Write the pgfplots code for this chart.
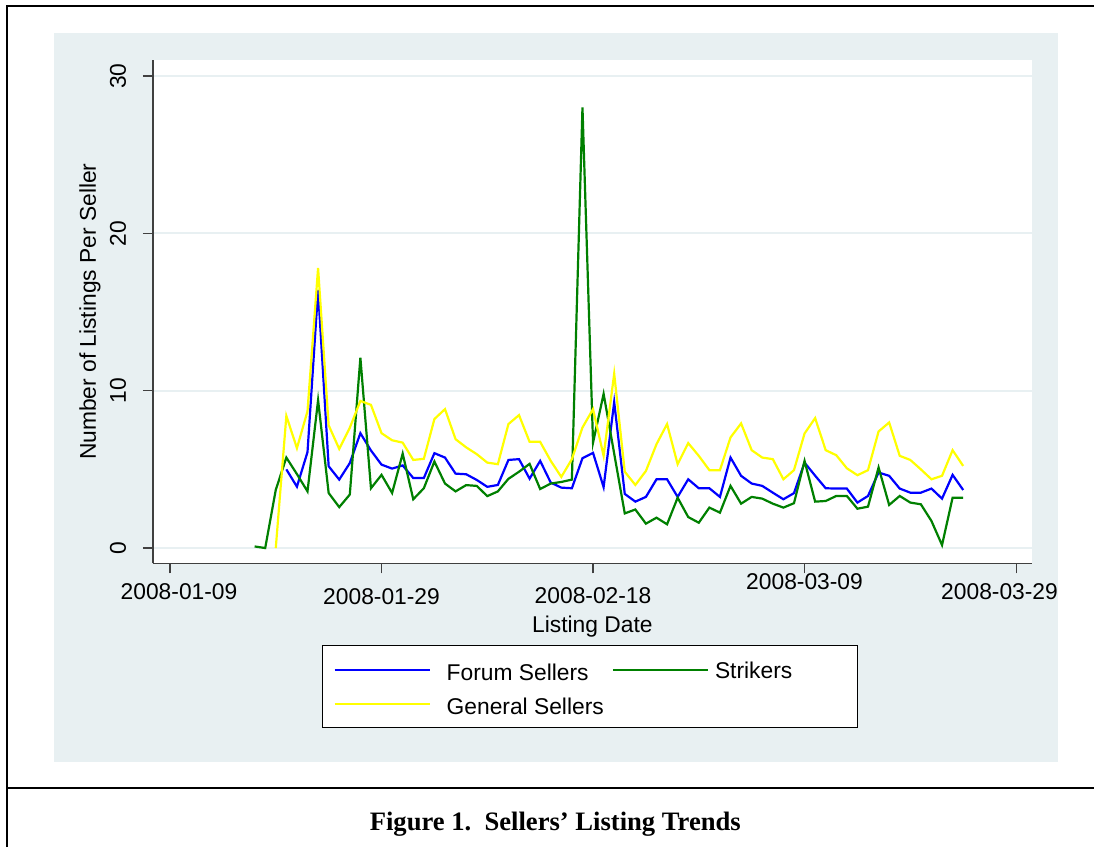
\documentclass[border=0pt]{standalone}
\usepackage{pgfplots}
\pgfplotsset{compat=1.18}
\usepackage{fontspec}
\setmainfont{Liberation Sans}
\newfontfamily\capfont{Liberation Serif}
\definecolor{bgc}{RGB}{232,240,242}
\definecolor{gridc}{RGB}{232,240,242}
\definecolor{sgreen}{RGB}{0,128,0}
\definecolor{syellow}{RGB}{255,255,0}
\definecolor{sblue}{RGB}{0,0,255}
\begin{document}
\begin{tikzpicture}[x=1pt,y=1pt]
\path[use as bounding box] (0,0) rectangle (1094,847);
\fill[bgc] (54,85.3) rectangle (1057.7,813.7);
\draw[line width=2.2pt] (7,0) -- (7,841) -- (1094,841);
\draw[line width=2.2pt] (7,59.3) -- (1094,59.3);
\begin{axis}[
  at={(153pt,283.7pt)}, anchor=south west,
  scale only axis, width=878.7pt, height=503.3pt,
  font=\fontsize{22.8}{27}\selectfont,
  /pgf/number format/assume math mode=true,
  xmin=-1.61, xmax=81.48, ymin=-0.97, ymax=31.02,
  axis lines*=left,
  axis line style={draw=black!75, line width=1.3pt},
  axis background/.style={fill=white},
  tick align=outside, major tick length=10pt,
  tick style={draw=black!75, line width=1.1pt},
  xtick={0,20,40,60,80}, ytick={0,10,20,30},
  ymajorgrids, grid style={draw=gridc, line width=1.8pt},
  xticklabels={\hspace*{18pt}2008-01-09, \raisebox{-4.6pt}{2008-01-29}, \raisebox{-4.1pt}{2008-02-18}, \raisebox{10.4pt}{2008-03-09}, 2008-03-29\hspace*{33pt}},
  xticklabel style={anchor=base, yshift=-26.4pt},
  yticklabel style={rotate=90, anchor=base, yshift=17pt},
  xlabel={Listing Date},
  xlabel style={at={(axis description cs:0.5,-0.1365)}, anchor=base},
  ylabel={Number of Listings Per Seller},
  ylabel style={at={(axis description cs:-0.0651,0.5)}, anchor=base},
  legend columns=2,
  legend cell align=left,
  legend style={at={(0.1923,-0.1623)}, anchor=north west, draw=black, line width=1pt, fill=white,
    inner xsep=11pt, inner ysep=8pt, column sep=0pt, row sep=2.4pt,
    nodes={inner sep=0pt, text height=26.8pt, text depth=5pt, anchor=base west},
    font=\fontsize{22.8}{27}\selectfont},
  legend image code/.code={\draw[#1, line width=2.2pt] (0pt,10.5pt) -- (95pt,10.5pt);},
]
\addplot[sblue, line width=2.2pt] coordinates {
(11,5.0) (12,3.9) (13,6.1) (14,16.4) (15,5.2) (16,4.35) (17,5.4) (18,7.3) (19,6.2) (20,5.3)
(21,5.05) (22,5.25) (23,4.45) (24,4.45) (25,6.03) (26,5.75) (27,4.73) (28,4.69) (29,4.33) (30,3.89)
(31,4.01) (32,5.6) (33,5.65) (34,4.41) (35,5.54) (36,4.16) (37,3.84) (38,3.8) (39,5.71) (40,6.05)
(41,3.87) (42,9.28) (43,3.44) (44,2.95) (45,3.25) (46,4.37) (47,4.37) (48,3.25) (49,4.37) (50,3.8)
(51,3.8) (52,3.25) (53,5.75) (54,4.59) (55,4.1) (56,3.95) (57,3.52) (58,3.1) (59,3.49) (60,5.43)
(61,4.6) (62,3.8) (63,3.78) (64,3.78) (65,2.89) (66,3.31) (67,4.8) (68,4.59) (69,3.78) (70,3.52)
(71,3.52) (72,3.78) (73,3.14) (74,4.65) (75,3.69)
};
\addlegendentry{\hspace*{16pt}Forum Sellers}
\addplot[sgreen, line width=2.2pt] coordinates {
(8,0.1) (9,0.0) (10,3.7) (11,5.75) (12,4.7) (13,3.6) (14,9.4) (15,3.5) (16,2.6) (17,3.4) (18,12.1)
(19,3.8) (20,4.65) (21,3.5) (22,6.0) (23,3.1) (24,3.8) (25,5.5) (26,4.1) (27,3.6) (28,4.0)
(29,3.95) (30,3.3) (31,3.6) (32,4.4) (33,4.85) (34,5.35) (35,3.75) (36,4.1) (37,4.2) (38,4.35)
(39,28.0) (40,6.7) (41,9.8) (42,6.0) (43,2.2) (44,2.45) (45,1.55) (46,1.93) (47,1.51) (48,3.2)
(49,1.97) (50,1.61) (51,2.57) (52,2.25) (53,3.95) (54,2.82) (55,3.25) (56,3.14) (57,2.82) (58,2.57)
(59,2.85) (60,5.54) (61,2.95) (62,2.99) (63,3.31) (64,3.31) (65,2.5) (66,2.63) (67,5.12) (68,2.74)
(69,3.31) (70,2.89) (71,2.78) (72,1.72) (73,0.19) (74,3.2) (75,3.2)
};
\addlegendentry{\hspace*{6pt}\raisebox{2pt}{Strikers}\hspace*{54pt}}
\addplot[syellow, line width=2.2pt] coordinates {
(10,0) (11,8.4) (12,6.35) (13,8.7) (14,17.8) (15,7.8) (16,6.3) (17,7.65) (18,9.35) (19,9.1) (20,7.3)
(21,6.85) (22,6.7) (23,5.6) (24,5.67) (25,8.2) (26,8.83) (27,6.92) (28,6.4) (29,5.97) (30,5.43)
(31,5.33) (32,7.88) (33,8.45) (34,6.75) (35,6.75) (36,5.54) (37,4.52) (38,5.65) (39,7.66) (40,8.83)
(41,5.86) (42,11.08) (43,4.85) (44,4.01) (45,4.9) (46,6.6) (47,7.88) (48,5.33) (49,6.67) (50,5.86)
(51,4.95) (52,4.95) (53,7.03) (54,7.92) (55,6.22) (56,5.75) (57,5.65) (58,4.37) (59,4.95) (60,7.28)
(61,8.26) (62,6.22) (63,5.9) (64,5.07) (65,4.63) (66,4.95) (67,7.41) (68,7.98) (69,5.86) (70,5.6)
(71,5.0) (72,4.37) (73,4.59) (74,6.22) (75,5.22)
};
\addlegendentry{\hspace*{16pt}General Sellers\hspace*{8pt}}
\end{axis}
\node[font=\capfont\bfseries\fontsize{26.6}{30}\selectfont, anchor=base] at (555.3,17) {Figure 1.\ \ Sellers’ Listing Trends};
\end{tikzpicture}
\end{document}
